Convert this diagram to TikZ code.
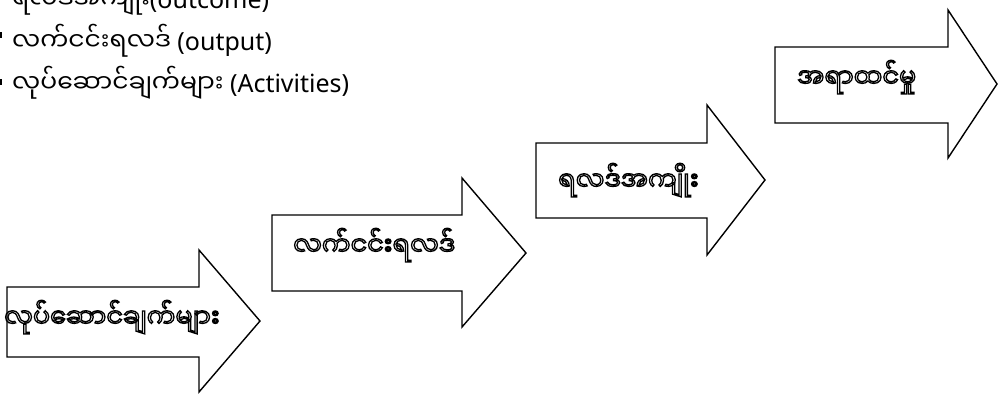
\documentclass[tikz,border=0pt]{standalone}
\usepackage{fontspec}
\setmainfont{Noto Sans}
\newfontfamily\mya[Script=Myanmar]{Noto Sans Myanmar UI}
% hollow (stroked-only) glyphs for the arrow captions
\newcommand\hollow[1]{\special{pdf:literal direct 1 Tr 1.3 w}#1\special{pdf:literal direct 0 Tr 1 w}}
\begin{document}
\begin{tikzpicture}[x=1pt,y=-1pt,
  blockarrow/.style={draw=black,line width=1.4pt,fill=white,line join=miter},
  listline/.style={anchor=base west,inner sep=0pt,font=\fontsize{25}{29}\selectfont},
  caption/.style={anchor=base west,inner sep=0pt,font=\fontsize{25.5}{29}\selectfont\mya},
  bullet/.style={fill=black,draw=none}]
\useasboundingbox (0,0) rectangle (998,394);

% legend lines
\fill[bullet] (-4,-5) rectangle (2,-11);
\node[listline] (l1) at (12,8) {{\mya ရလဒ်အကျိုး}(outcome)};
\fill[bullet] (-4,32) rectangle (2,38);
\node[listline] (l2) at (12,50) {{\mya လက်ငင်းရလဒ်} (output)};
\fill[bullet] (-4,79) rectangle (2,85);
\node[listline] (l3) at (12,92) {{\mya လုပ်ဆောင်ချက်များ} (Activities)};

% step arrows
\draw[blockarrow] (7,287) -- (199,287) -- (199,250) -- (260,321) -- (199,392) -- (199,357) -- (7,357) -- cycle;
\draw[blockarrow] (272,215) -- (462,215) -- (462,178) -- (526,253) -- (462,327) -- (462,291) -- (272,291) -- cycle;
\draw[blockarrow] (536,143) -- (707,143) -- (707,105) -- (765,180) -- (707,255) -- (707,218) -- (536,218) -- cycle;
\draw[blockarrow] (775,47) -- (948,47) -- (948,10) -- (997,84) -- (948,158) -- (948,123) -- (775,123) -- cycle;

% captions
\node[caption] (a1) at (4,327) {\hollow{လုပ်ဆောင်ချက်များ}};
\node[caption] (a2) at (293,255) {\hollow{လက်ငင်းရလဒ်}};
\node[caption] (a3) at (558,190) {\hollow{ရလဒ်အကျိုး}};
\node[caption] (a4) at (797,87) {\hollow{အရာထင်မှု}};
\end{tikzpicture}
\end{document}
